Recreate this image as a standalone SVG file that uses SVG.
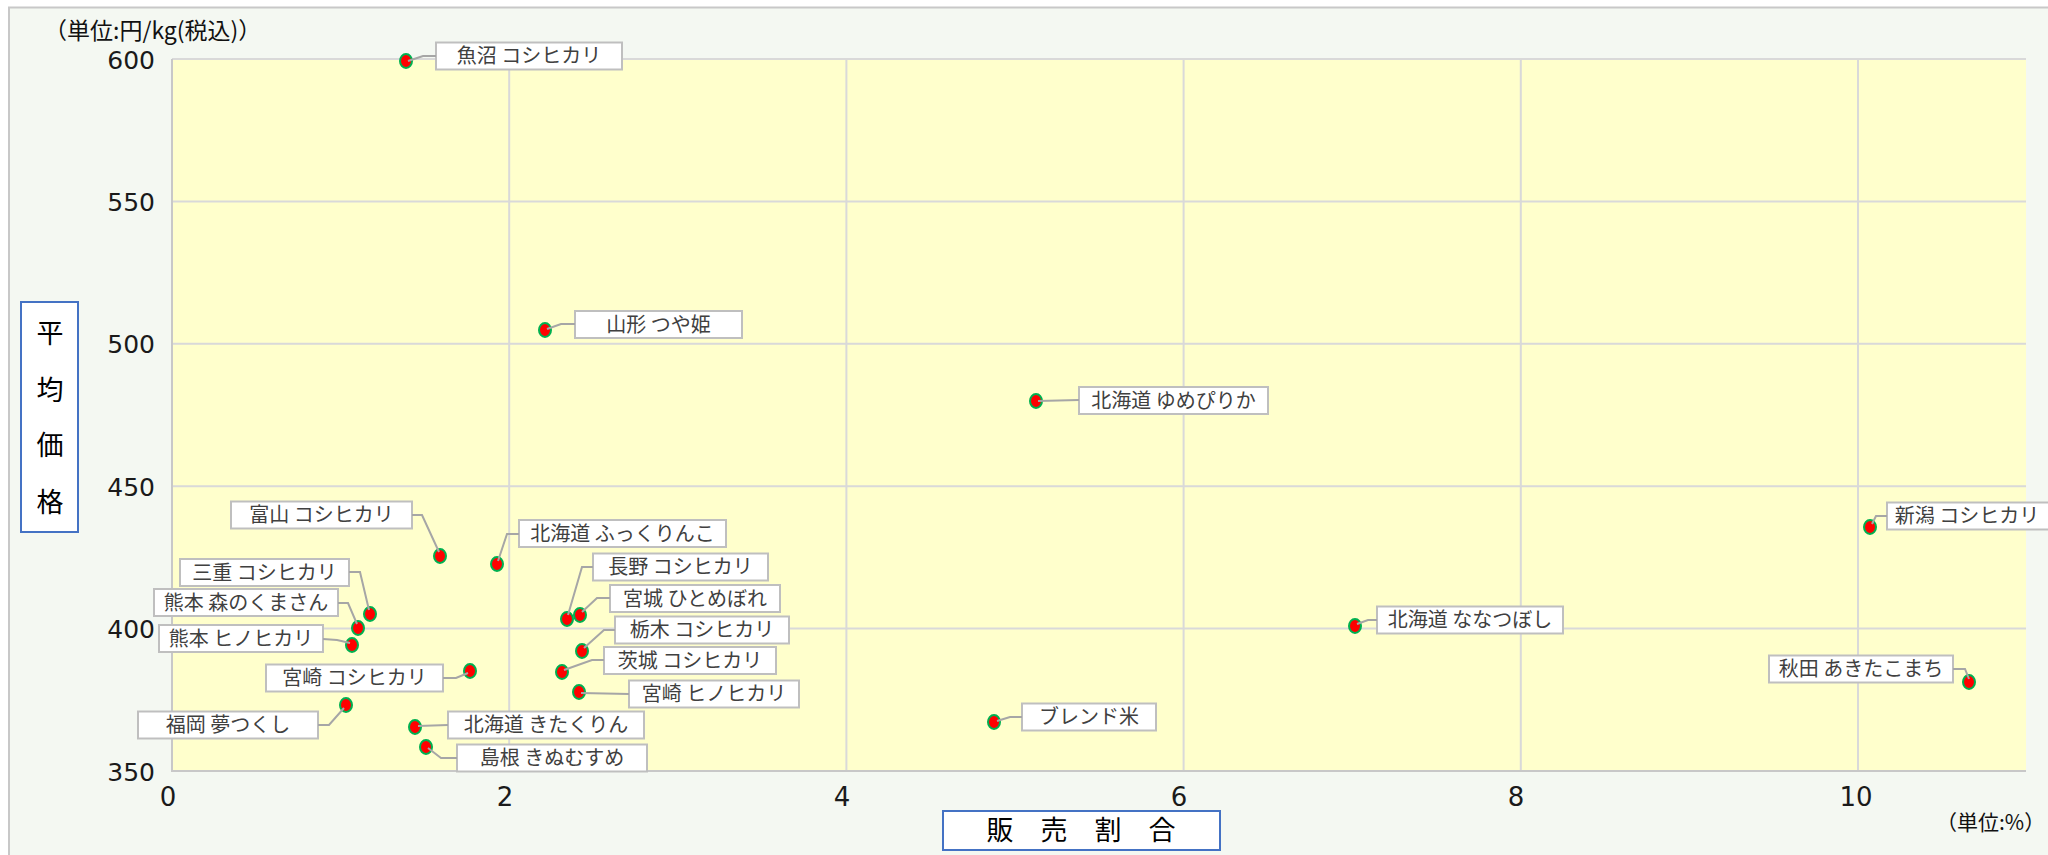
<svg xmlns="http://www.w3.org/2000/svg" width="2048" height="855" viewBox="0 0 2048 855">
<style>
.lbl rect{fill:#FFFFFF;stroke:#BFBFBF;stroke-width:2}
.lbl text{font-family:"Noto Sans CJK JP","Noto Sans CJK SC",sans-serif;font-size:20px;fill:#404040;text-anchor:middle}
.pt{fill:#FF0000;stroke:#00B050;stroke-width:2}
.grid line{stroke:#D9D9D9;stroke-width:2}
.axis line{stroke:#C8C8C8;stroke-width:2}
#connectors polyline{fill:none;stroke:#A6A6A6;stroke-width:2}
.tick{font-family:"DejaVu Sans",sans-serif;font-size:25px;fill:#1A1A1A}
.ytick{text-anchor:end}
.xtick{text-anchor:middle;font-size:26px}
.ttl rect{fill:#FFFFFF;stroke:#4472C4;stroke-width:2}
.ttl text{font-family:"Noto Sans CJK JP","Noto Sans CJK SC",sans-serif;font-size:27px;fill:#000000;text-anchor:middle}
.unit{font-family:"Noto Sans CJK JP","Noto Sans CJK SC",sans-serif;font-size:23px;fill:#111111}
</style>
<rect x="0" y="0" width="2048" height="855" fill="#FFFFFF"/>
<rect x="9" y="7.5" width="2100" height="900" fill="#F4F8F2" stroke="#C8C8C8" stroke-width="2"/>

<g id="plot-area">
<rect x="172" y="59" width="1854" height="712" fill="#FFFFCC"/>
<g class="grid">
<line x1="172" y1="59" x2="2026" y2="59"/>
<line x1="172" y1="201.4" x2="2026" y2="201.4"/>
<line x1="172" y1="343.8" x2="2026" y2="343.8"/>
<line x1="172" y1="486.2" x2="2026" y2="486.2"/>
<line x1="172" y1="628.6" x2="2026" y2="628.6"/>
<line x1="509.2" y1="59" x2="509.2" y2="771"/>
<line x1="846.4" y1="59" x2="846.4" y2="771"/>
<line x1="1183.6" y1="59" x2="1183.6" y2="771"/>
<line x1="1520.8" y1="59" x2="1520.8" y2="771"/>
<line x1="1858" y1="59" x2="1858" y2="771"/>
</g>
<g class="axis">
<line x1="172" y1="59" x2="172" y2="772"/>
<line x1="171" y1="771" x2="2026" y2="771"/>
</g>
</g>

<g id="axis-labels">
<text class="tick ytick" x="155" y="69">600</text>
<text class="tick ytick" x="155" y="211">550</text>
<text class="tick ytick" x="155" y="353">500</text>
<text class="tick ytick" x="155" y="496">450</text>
<text class="tick ytick" x="155" y="638">400</text>
<text class="tick ytick" x="155" y="781">350</text>
<text class="tick xtick" x="168" y="806">0</text>
<text class="tick xtick" x="505" y="806">2</text>
<text class="tick xtick" x="842" y="806">4</text>
<text class="tick xtick" x="1179" y="806">6</text>
<text class="tick xtick" x="1516" y="806">8</text>
<text class="tick xtick" x="1856" y="806">10</text>
<text class="unit" x="44" y="39">（単位:円/kg(税込)）</text>
<text class="unit" x="1936" y="830" style="font-size:21px">（単位:%）</text>
</g>

<g id="y-title" class="ttl">
<rect x="21" y="302" width="57" height="230"/>
<text x="50" y="343">平</text>
<text x="50" y="400">均</text>
<text x="50" y="455">価</text>
<text x="50" y="512">格</text>
</g>
<g id="x-title" class="ttl">
<rect x="943" y="811" width="277" height="39"/>
<text x="1081" y="840">販　売　割　合</text>
</g>

<g id="n-uonuma" class="lbl"><ellipse class="pt" cx="406" cy="61" rx="6" ry="7"/><rect x="436" y="42.5" width="186" height="27"/><text x="529" y="63">魚沼 コシヒカリ</text></g>
<g id="n-yamagata" class="lbl"><ellipse class="pt" cx="545" cy="330" rx="6" ry="7"/><rect x="575" y="311" width="167" height="27"/><text x="658.5" y="331.5">山形 つや姫</text></g>
<g id="n-yumepirika" class="lbl"><ellipse class="pt" cx="1036" cy="401" rx="6" ry="7"/><rect x="1079" y="387" width="189" height="27"/><text x="1173.5" y="407.5">北海道 ゆめぴりか</text></g>
<g id="n-niigata" class="lbl"><ellipse class="pt" cx="1870" cy="527" rx="6" ry="7"/><rect x="1887" y="502.5" width="171" height="27"/><text x="1967" y="523">新潟 コシヒカリ</text></g>
<g id="n-toyama" class="lbl"><ellipse class="pt" cx="440" cy="556" rx="6" ry="7"/><rect x="231" y="501.5" width="181" height="27"/><text x="321.5" y="522">富山 コシヒカリ</text></g>
<g id="n-fukkurinko" class="lbl"><ellipse class="pt" cx="497" cy="564" rx="6" ry="7"/><rect x="519" y="520" width="207" height="27"/><text x="622.5" y="540.5">北海道 ふっくりんこ</text></g>
<g id="n-nagano" class="lbl"><ellipse class="pt" cx="567" cy="619" rx="6" ry="7"/><rect x="593" y="553.5" width="175" height="27"/><text x="680.5" y="574">長野 コシヒカリ</text></g>
<g id="n-mie" class="lbl"><ellipse class="pt" cx="370" cy="614" rx="6" ry="7"/><rect x="180" y="559" width="169" height="27"/><text x="264.5" y="579.5">三重 コシヒカリ</text></g>
<g id="n-miyagi" class="lbl"><ellipse class="pt" cx="580" cy="615" rx="6" ry="7"/><rect x="610" y="585" width="170" height="27"/><text x="695" y="605.5">宮城 ひとめぼれ</text></g>
<g id="n-kumamoto-mori" class="lbl"><ellipse class="pt" cx="358" cy="628" rx="6" ry="7"/><rect x="154" y="589" width="184" height="27"/><text x="246" y="609.5">熊本 森のくまさん</text></g>
<g id="n-kumamoto-hino" class="lbl"><ellipse class="pt" cx="352" cy="645" rx="6" ry="7"/><rect x="159" y="625" width="164" height="27"/><text x="241" y="645.5">熊本 ヒノヒカリ</text></g>
<g id="n-nanatsuboshi" class="lbl"><ellipse class="pt" cx="1355" cy="626" rx="6" ry="7"/><rect x="1377" y="606.5" width="186" height="27"/><text x="1470" y="627">北海道 ななつぼし</text></g>
<g id="n-tochigi" class="lbl"><ellipse class="pt" cx="582" cy="651" rx="6" ry="7"/><rect x="615" y="616.5" width="174" height="27"/><text x="702" y="637">栃木 コシヒカリ</text></g>
<g id="n-ibaraki" class="lbl"><ellipse class="pt" cx="562" cy="672" rx="6" ry="7"/><rect x="604" y="647" width="172" height="27"/><text x="690" y="667.5">茨城 コシヒカリ</text></g>
<g id="n-miyazaki-koshi" class="lbl"><ellipse class="pt" cx="470" cy="671" rx="6" ry="7"/><rect x="266" y="664.5" width="177" height="27"/><text x="354.5" y="685">宮崎 コシヒカリ</text></g>
<g id="n-akita" class="lbl"><ellipse class="pt" cx="1969" cy="682" rx="6" ry="7"/><rect x="1769" y="655.5" width="184" height="27"/><text x="1861" y="676">秋田 あきたこまち</text></g>
<g id="n-miyazaki-hino" class="lbl"><ellipse class="pt" cx="579" cy="692" rx="6" ry="7"/><rect x="629" y="680.5" width="170" height="27"/><text x="714" y="701">宮崎 ヒノヒカリ</text></g>
<g id="n-fukuoka" class="lbl"><ellipse class="pt" cx="346" cy="705" rx="6" ry="7"/><rect x="138" y="711.5" width="180" height="27"/><text x="228" y="732">福岡 夢つくし</text></g>
<g id="n-kitakurin" class="lbl"><ellipse class="pt" cx="415" cy="727" rx="6" ry="7"/><rect x="448" y="711.5" width="196" height="27"/><text x="546" y="732">北海道 きたくりん</text></g>
<g id="n-blend" class="lbl"><ellipse class="pt" cx="994" cy="722" rx="6" ry="7"/><rect x="1022" y="703.5" width="134" height="27"/><text x="1089" y="724">ブレンド米</text></g>
<g id="n-shimane" class="lbl"><ellipse class="pt" cx="426" cy="747" rx="6" ry="7"/><rect x="457" y="744.5" width="190" height="27"/><text x="552" y="765">島根 きぬむすめ</text></g>

<g id="connectors">
<polyline points="408,61 423,56 436,56"/>
<polyline points="547,329 561,324 575,324"/>
<polyline points="1038,401 1079,400"/>
<polyline points="1872,524 1876,516 1887,516"/>
<polyline points="412,515 422,515 439,552"/>
<polyline points="498,561 507,534 519,534"/>
<polyline points="593,567 582,567 568,615"/>
<polyline points="349,572 360,572 369,610"/>
<polyline points="610,598 597,598 582,612"/>
<polyline points="338,603 348,603 357,624"/>
<polyline points="323,639 337,640 350,643"/>
<polyline points="1357,624 1368,620 1377,620"/>
<polyline points="615,630 604,630 584,648"/>
<polyline points="604,660 592,660 564,670"/>
<polyline points="443,678 456,678 468,673"/>
<polyline points="1953,669 1965,669 1969,679"/>
<polyline points="581,693 629,694"/>
<polyline points="318,725 329,725 344,708"/>
<polyline points="418,726 448,725"/>
<polyline points="997,721 1010,717 1022,717"/>
<polyline points="428,748 441,758 457,758"/>
</g>
</svg>
